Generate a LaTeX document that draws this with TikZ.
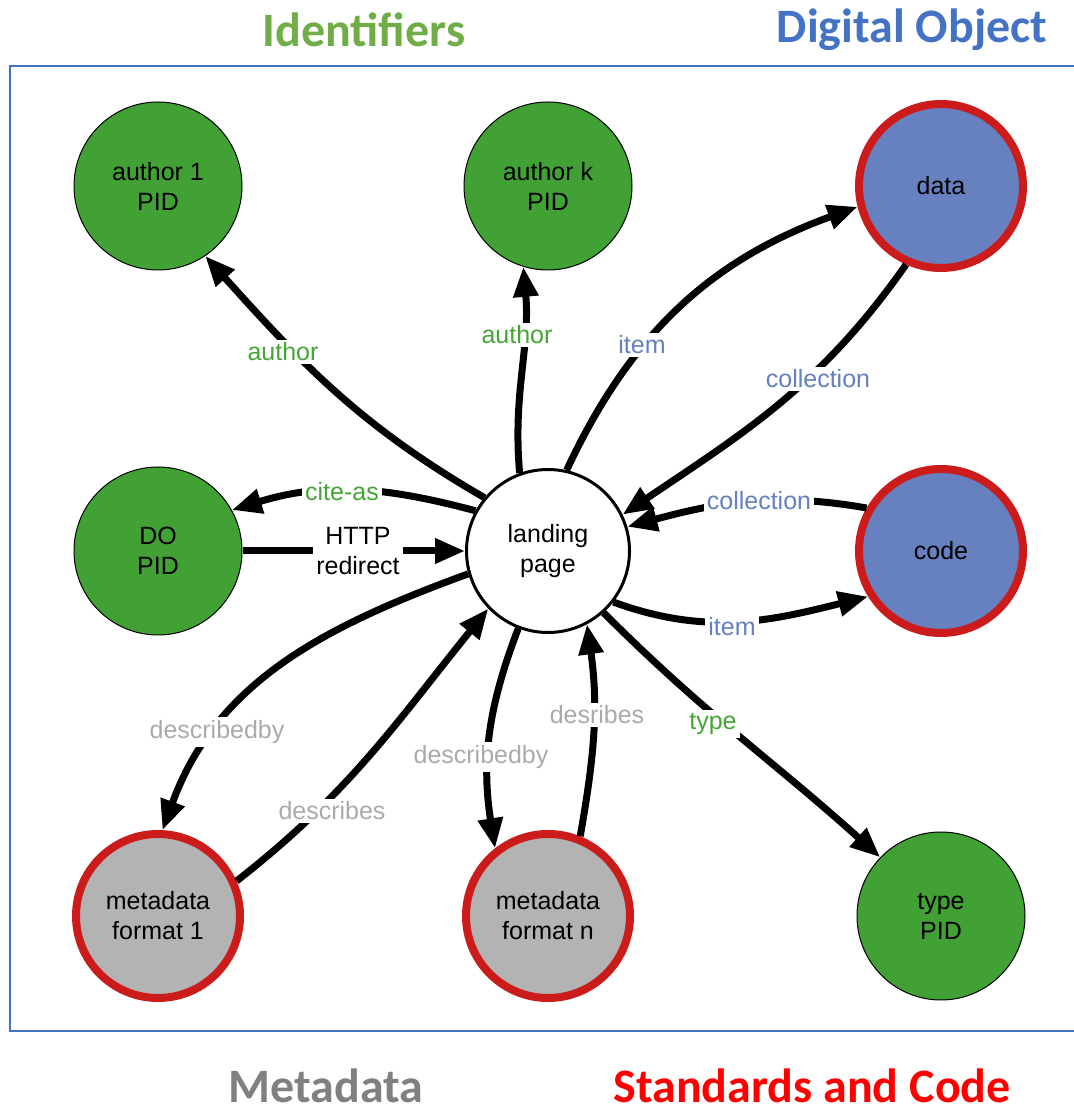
\documentclass[tikz,border=0pt]{standalone}
\usepackage{fontspec}
\setmainfont{Liberation Sans}
\newfontfamily\titlefont{Carlito}
\usetikzlibrary{arrows.meta}
\definecolor{gfill}{HTML}{42A135}
\definecolor{bfill}{HTML}{6680C0}
\definecolor{mfill}{HTML}{B3B3B3}
\definecolor{rborder}{HTML}{CC1B1B}
\definecolor{lgreen}{HTML}{45A535}
\definecolor{lblue}{HTML}{6480C0}
\definecolor{lgray}{HTML}{AAAAAA}
\definecolor{tgreen}{HTML}{70AD47}
\definecolor{tblue}{HTML}{4472C4}
\definecolor{tgray}{HTML}{808080}
\definecolor{tred}{HTML}{FF0000}
\tikzset{
  base/.style={circle, align=center, font=\fontsize{25}{30}\selectfont, text=black},
  idnode/.style={base, fill=gfill, draw=black, line width=1pt, minimum size=168pt},
  donode/.style={base, fill=bfill, draw=rborder, line width=8pt, minimum size=164pt},
  mdnode/.style={base, fill=mfill, draw=rborder, line width=8pt, minimum size=164pt},
  lpnode/.style={base, fill=white, draw=black, line width=3pt, minimum size=163pt},
  conn/.style={draw=black, line width=7pt, -{Triangle[length=30pt,width=24pt]}},
  lbl/.style={fill=white, inner sep=3pt, align=center, font=\fontsize{25}{30}\selectfont},
  ttl/.style={font=\titlefont\bfseries\fontsize{48}{56}\selectfont, inner sep=0pt}
}
\begin{document}
\begin{tikzpicture}[x=1pt,y=1pt]
\useasboundingbox (0,0) rectangle (1074,1117);
% frame
\draw[tblue, line width=1.5pt] (1080,1051) -- (10,1051) -- (10,86) -- (1080,86);
% titles
\node[ttl, text=tgreen] (t1) at (364,1087) {Identifiers};
\node[ttl, text=tblue] (t2) at (912,1087) {Digital Object};
\node[ttl, text=tgray] (t3) at (326,31) {Metadata};
\node[ttl, text=tred] (t4) at (812,31) {Standards and Code};
% nodes
\node[idnode] (a1) at (158,931) {author 1\\PID};
\node[idnode] (ak) at (548,931) {author k\\PID};
\node[donode] (data) at (941,931) {data};
\node[idnode] (do) at (158,566) {DO\\PID};
\node[lpnode] (lp) at (548,566) {landing\\page};
\node[donode] (code) at (941,566) {code};
\node[mdnode] (mf1) at (158,201) {metadata\\format 1};
\node[mdnode] (mfn) at (548,201) {metadata\\format n};
\node[idnode] (type) at (941,201) {type\\PID};
% connectors
\draw[conn] (lp.140) to[out=150,in=-48] (a1.-56);
\draw[conn] (lp.110) to[out=95,in=-85] (ak.-107);
\draw[conn] (lp.77) to[out=65,in=200] (data.194);
\draw[conn] (data.-114) to[out=-125,in=34] (lp.26);
\draw[conn] (code.150) to[out=170,in=15] (lp.17);
\draw[conn] (lp.-38) to[out=-20,in=194] (code.212);
\draw[conn] (lp.-48) to[out=-45,in=138] (type.136);
\draw[conn] (lp.151) to[out=165,in=17] (do.29);
\draw[conn] (do.east) -- (lp.west);
\draw[conn] (lp.196) to[out=200,in=70] (mf1.87);
\draw[conn] (mf1.24) to[out=38,in=231] (lp.-136);
\draw[conn] (lp.-111) to[out=-111,in=99] (mfn.128);
\draw[conn] (mfn.68) to[out=80,in=-82] (lp.-62);
% labels
\node[lbl, text=lgreen] (l1) at (283,765) {author};
\node[lbl, text=lgreen] (l2) at (517,782) {author};
\node[lbl, text=lblue] (l3) at (642,772) {item};
\node[lbl, text=lblue] (l4) at (818,738) {collection};
\node[lbl, text=lblue] (l5) at (759,616) {collection};
\node[lbl, text=lblue] (l6) at (732,490) {item};
\node[lbl, text=lgreen] (l7) at (713,393) {type};
\node[lbl, text=lgreen] (l8) at (342,625) {cite-as};
\node[lbl, text=black] (l9) at (358,566) {HTTP\\redirect};
\node[lbl, text=lgray] (l10) at (217,385) {describedby};
\node[lbl, text=lgray] (l11) at (332,306) {describes};
\node[lbl, text=lgray] (l12) at (481,360) {describedby};
\node[lbl, text=lgray] (l13) at (597,402) {desribes};
\end{tikzpicture}
\end{document}
